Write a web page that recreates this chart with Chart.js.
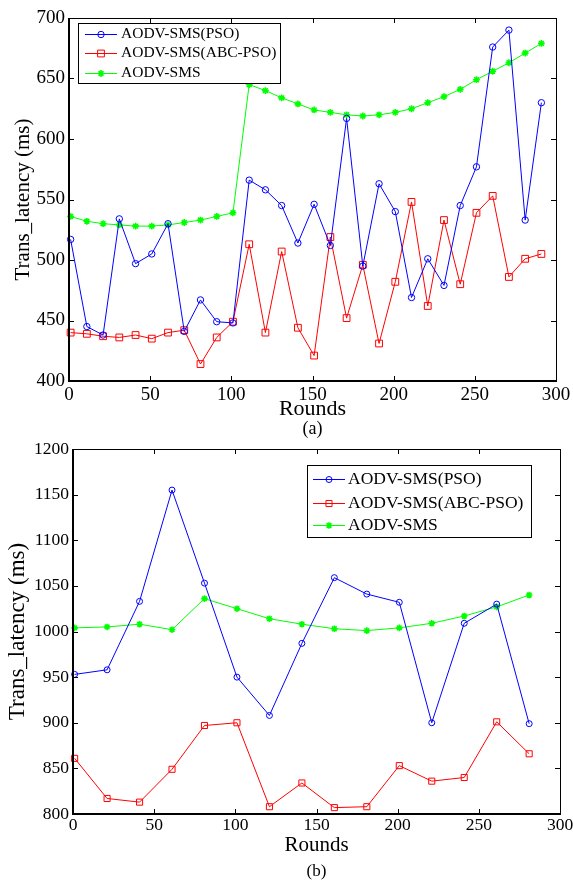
<!DOCTYPE html>
<html><head><meta charset="utf-8">
<script src="https://cdn.jsdelivr.net/npm/chart.js@4.4.1/dist/chart.umd.min.js"></script>
<style>
html,body{margin:0;padding:0;background:#fff;}
canvas{position:absolute;left:0;}
#ca{top:0;}
#cb{top:440px;}
</style></head><body>
<canvas id="ca" width="573" height="440"></canvas>
<canvas id="cb" width="573" height="440"></canvas>
<script>
// ---------- data ----------
const seriesNames = ['AODV-SMS(PSO)', 'AODV-SMS(ABC-PSO)', 'AODV-SMS'];
const xTicks = [0, 50, 100, 150, 200, 250, 300];

// (a)
const roundsA = [1, 11, 21, 31, 41, 51, 61, 71, 81, 91, 101, 111, 121, 131, 141, 151, 161, 171, 181, 191, 201, 211, 221, 231, 241, 251, 261, 271, 281, 291];
const psoA = [517, 445, 438, 534, 497, 505, 530, 441, 467, 449, 448, 566, 558, 545, 514, 546, 512, 617, 495, 563, 540, 469, 501, 479, 545, 577, 676, 690, 533, 630];
const abcA = [440, 439, 437, 436, 438, 435, 440, 442, 414, 436, 449, 513, 440, 507, 444, 421, 519, 452, 496, 431, 482, 548, 462, 533, 480, 539, 553, 486, 501, 505];
const smsA = [536, 532, 530, 529, 528, 528, 529, 531, 533, 536, 539, 645, 640, 634, 629, 624, 622, 620, 619, 620, 622, 625, 630, 635, 641, 649, 656, 663, 671, 679];
const yTicksA = [400, 450, 500, 550, 600, 650, 700];

// (b)
const roundsB = [1, 21, 41, 61, 81, 101, 121, 141, 161, 181, 201, 221, 241, 261, 281];
const psoB = [953, 958, 1033, 1155, 1053, 950, 908, 987, 1059, 1041, 1032, 900, 1009, 1030, 899];
const abcB = [861, 817, 813, 849, 897, 900, 808, 834, 807, 808, 853, 836, 840, 901, 866];
const smsB = [1004, 1005, 1008, 1002, 1036, 1025, 1014, 1008, 1003, 1001, 1004, 1009, 1017, 1027, 1040];
const yTicksB = [800, 850, 900, 950, 1000, 1050, 1100, 1150, 1200];

// ---------- helpers ----------
const SERIF = "'Liberation Serif', 'Times New Roman', serif";
const colors = ['#0000ff', '#ff0000', '#00ff00'];
const styles = ['circle', 'rect', 'star'];

function drawMarker(ctx, style, x, y, r, color, w) {
  ctx.save();
  ctx.strokeStyle = color; ctx.lineWidth = w || 1;
  ctx.beginPath();
  if (style === 'circle') {
    ctx.arc(x, y, r, 0, Math.PI * 2);
  } else if (style === 'rect') {
    const s = Math.SQRT1_2 * r;
    ctx.rect(x - s, y - s, 2 * s, 2 * s);
  } else {
    const d = Math.cos(Math.PI / 4) * r;
    ctx.moveTo(x - r, y); ctx.lineTo(x + r, y);
    ctx.moveTo(x, y - r); ctx.lineTo(x, y + r);
    ctx.moveTo(x - d, y - d); ctx.lineTo(x + d, y + d);
    ctx.moveTo(x - d, y + d); ctx.lineTo(x + d, y - d);
  }
  ctx.stroke();
  ctx.restore();
}

const framePlugin = {
  id: 'frame',
  afterDraw(chart) {
    const ctx = chart.ctx, a = chart.chartArea;
    const xs = chart.scales.x, ys = chart.scales.y;
    const L = 5;
    ctx.save();
    ctx.strokeStyle = '#000';
    ctx.lineWidth = 1;
    const line = (x1, y1, x2, y2) => { ctx.beginPath(); ctx.moveTo(x1, y1); ctx.lineTo(x2, y2); ctx.stroke(); };
    xs.ticks.forEach(t => {
      const p = Math.round(xs.getPixelForValue(t.value)) + 0.5;
      line(p, a.bottom, p, a.bottom - L);
      line(p, a.top, p, a.top + L);
    });
    ys.ticks.forEach(t => {
      const p = Math.round(ys.getPixelForValue(t.value)) + 0.5;
      line(a.left, p, a.left + L, p);
      line(a.right, p, a.right - L, p);
    });
    line(a.left, a.top + 0.5, a.right, a.top + 0.5);
    line(a.right + 0.5, a.top, a.right + 0.5, a.bottom);
    ctx.lineWidth = 2;
    line(a.left, a.top, a.left, a.bottom + 1);
    line(a.left - 1, a.bottom, a.right + 1, a.bottom);
    ctx.restore();
  }
};

const boxLegend = {
  id: 'boxLegend',
  afterDraw(chart, args, o) {
    if (!o || !o.w) return;
    const ctx = chart.ctx;
    ctx.save();
    ctx.fillStyle = '#fff';
    ctx.fillRect(o.x, o.y, o.w, o.h);
    ctx.strokeStyle = '#000'; ctx.lineWidth = 1;
    ctx.strokeRect(o.x + 0.5, o.y + 0.5, o.w, o.h);
    chart.data.datasets.forEach((ds, i) => {
      const yy = o.rows[i];
      ctx.strokeStyle = ds.borderColor; ctx.lineWidth = 1;
      ctx.beginPath(); ctx.moveTo(o.x1, yy + 0.5); ctx.lineTo(o.x2, yy + 0.5); ctx.stroke();
      drawMarker(ctx, ds.pointStyle, (o.x1 + o.x2) / 2, yy + 0.5, ds.pointRadius, ds.borderColor, ds.pointBorderWidth);
      ctx.fillStyle = '#000';
      ctx.font = o.size + 'px ' + SERIF;
      ctx.textBaseline = 'middle'; ctx.textAlign = 'left';
      ctx.fillText(ds.label, o.tx, yy);
    });
    ctx.restore();
  }
};

function mkSets(rounds, arrs, radii) {
  return arrs.map((vals, i) => ({
    label: seriesNames[i],
    data: rounds.map((x, j) => ({ x: x, y: vals[j] })),
    borderColor: colors[i],
    backgroundColor: 'rgba(0,0,0,0)',
    pointBorderColor: colors[i],
    pointBackgroundColor: 'rgba(0,0,0,0)',
    pointStyle: styles[i],
    pointRadius: radii[i],
    pointBorderWidth: styles[i] === 'star' ? 1.6 : 1,
    borderWidth: 1,
    tension: 0,
    clip: false
  }));
}

function mkChart(id, cfg) {
  return new Chart(document.getElementById(id), {
    type: 'line',
    data: { datasets: mkSets(cfg.rounds, cfg.series, cfg.radii) },
    plugins: [framePlugin, boxLegend],
    options: {
      responsive: false,
      animation: false,
      devicePixelRatio: 1,
      layout: { padding: cfg.pad },
      plugins: {
        legend: { display: false },
        tooltip: { enabled: false },
        title: {
          display: true, position: 'bottom', fullSize: false,
          text: cfg.caption, color: '#000',
          font: { family: SERIF, size: cfg.capSize, weight: 'normal', lineHeight: 1 },
          padding: 0
        },
        boxLegend: cfg.legend
      },
      scales: {
        x: {
          type: 'linear', min: 0, max: 300,
          afterBuildTicks: s => { s.ticks = xTicks.map(v => ({ value: v })); },
          grid: { display: false, drawTicks: false },
          border: { display: false },
          ticks: { color: '#000', font: { family: SERIF, size: cfg.tickSize }, padding: cfg.xPad, maxRotation: 0, autoSkip: false, callback: v => String(v) },
          title: { display: true, text: 'Rounds', color: '#000', font: { family: SERIF, size: cfg.xtSize, lineHeight: 1 }, padding: { top: 0, bottom: cfg.xtPad } },
          afterFit: s => { s.height = cfg.xh; s.paddingLeft = 0; s.paddingRight = 0; s.paddingTop = 0; s.paddingBottom = 0; }
        },
        y: {
          type: 'linear', min: cfg.yTicks[0], max: cfg.yTicks[cfg.yTicks.length - 1],
          afterBuildTicks: s => { s.ticks = cfg.yTicks.map(v => ({ value: v })); },
          grid: { display: false, drawTicks: false },
          border: { display: false },
          ticks: { color: '#000', font: { family: SERIF, size: cfg.tickSize }, padding: 4, autoSkip: false, callback: v => String(v) },
          title: { display: true, text: 'Trans_latency (ms)', color: '#000', font: { family: SERIF, size: cfg.ytSize, lineHeight: 1 }, padding: { top: cfg.ytPad, bottom: 0 } },
          afterFit: s => { s.width = cfg.yw; s.paddingLeft = 0; s.paddingRight = 0; s.paddingTop = 0; s.paddingBottom = 0; }
        }
      }
    }
  });
}

mkChart('ca', {
  rounds: roundsA, series: [psoA, abcA, smsA], radii: [3.2, 4.8, 3.4],
  yTicks: yTicksA, pad: { left: 0, right: 17, top: 18, bottom: 2 },
  caption: '(a)', capSize: 18, tickSize: 19, xPad: 3, xtSize: 22, xtPad: 0, xh: 39,
  ytSize: 21, ytPad: 13, yw: 69,
  legend: { x: 78, y: 23, w: 202, h: 60, rows: [34, 53, 73], x1: 85, x2: 117, tx: 121, size: 15.5 }
});

mkChart('cb', {
  rounds: roundsB, series: [psoB, abcB, smsB], radii: [3.0, 4.3, 3.3],
  yTicks: yTicksB, pad: { left: 0, right: 13, top: 9, bottom: 0 },
  caption: '(b)', capSize: 17, tickSize: 17.5, xPad: 1, xtSize: 21, xtPad: 7, xh: 49,
  ytSize: 23, ytPad: 6, yw: 73,
  legend: { x: 307, y: 25, w: 224, h: 72, rows: [39, 63, 85], x1: 313, x2: 345, tx: 348, size: 17.5 }
});
</script>
</body></html>
